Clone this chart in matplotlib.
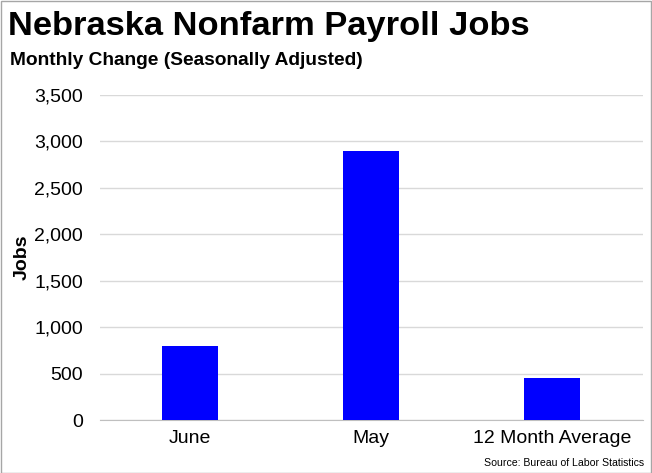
import matplotlib
matplotlib.use("Agg")
import matplotlib.pyplot as plt
from matplotlib.patches import Rectangle
from matplotlib.ticker import FuncFormatter

# Data
categories = ["June", "May", "12 Month Average"]
job_changes = [800, 2900, 450]
y_ticks = [0, 500, 1000, 1500, 2000, 2500, 3000, 3500]

plt.rcParams['font.family'] = ['Liberation Sans', 'DejaVu Sans']

fig = plt.figure(figsize=(6.52, 4.73), dpi=100)
ax = fig.add_axes([0.153, 0.112, 0.833, 0.687])

ax.bar(categories, job_changes, width=0.31, color='#0000FF', zorder=3)

ax.set_ylim(0, 3500)
ax.set_xlim(-0.5, len(categories) - 0.5)
ax.set_yticks(y_ticks)
ax.yaxis.set_major_formatter(FuncFormatter(lambda v, p: f'{v:,.0f}'))
ax.grid(axis='y', color='#D9D9D9', linewidth=1, zorder=0)
ax.tick_params(axis='both', length=0, labelsize=14, colors='black')
ax.tick_params(axis='x', pad=7)
ax.tick_params(axis='y', pad=12)
for s in ['top', 'right', 'left']:
    ax.spines[s].set_visible(False)
ax.spines['bottom'].set_color('#BFBFBF')

ax.set_ylabel('Jobs', fontsize=14, fontweight='bold')
ax.yaxis.set_label_coords(-0.128, 0.5)

fig.text(0.012, 0.943, 'Nebraska Nonfarm Payroll Jobs', fontsize=24.8,
         fontweight='bold', va='center', ha='left')
fig.text(0.016, 0.872, 'Monthly Change (Seasonally Adjusted)', fontsize=13.8,
         fontweight='bold', va='center', ha='left')
fig.text(0.988, 0.021, 'Source: Bureau of Labor Statistics', fontsize=7.6,
         va='center', ha='right')

# thin grey frame around the whole picture
fig.patches.append(Rectangle((0.001, 0.001), 0.998, 0.997, transform=fig.transFigure,
                             fill=False, edgecolor='#A6A6A6', linewidth=1))

plt.savefig('out.png', dpi=100)
plt.close()
